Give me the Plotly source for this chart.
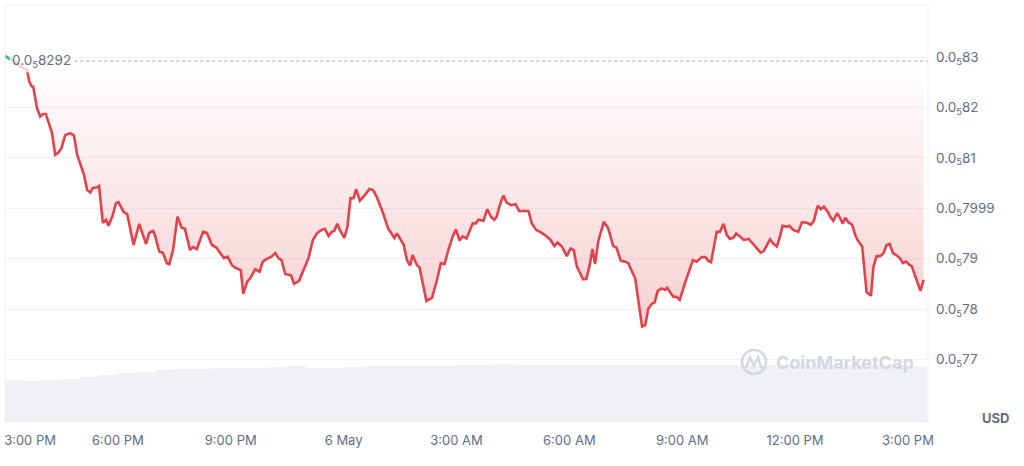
import pandas as pd
import plotly.graph_objects as go

# ---- data (price shown in units of 0.0_5, i.e. value x 1e-5 USD) ----
start_time = "2024-05-05 15:00"
minutes = [0, 11, 24, 35, 39, 42, 45, 51, 56, 61, 65, 71, 75, 80, 85, 90, 96, 104, 110, 115,
           122, 126, 131, 136, 140, 146, 150, 156, 161, 165, 171, 177, 181, 189, 195, 205, 214, 225, 230, 236,
           239, 246, 252, 258, 262, 268, 275, 282, 287, 295, 300, 306, 311, 316, 322, 330, 337, 346, 349, 355,
           362, 367, 372, 376, 380, 386, 391, 399, 406, 411, 417, 425, 431, 436, 441, 447, 456, 461, 469, 479,
           484, 491, 498, 505, 510, 516, 521, 525, 530, 534, 541, 546, 551, 556, 560, 566, 574, 581, 587, 593,
           603, 611, 621, 625, 630, 636, 641, 646, 650, 657, 661, 672, 681, 689, 695, 701, 707, 714, 719, 725,
           730, 736, 746, 751, 755, 763, 769, 775, 780, 784, 790, 795, 800, 807, 814, 820, 828, 835, 840, 847,
           856, 863, 870, 876, 881, 888, 896, 902, 907, 912, 918, 922, 927, 932, 937, 941, 946, 955, 962, 970,
           975, 982, 989, 994, 1000, 1005, 1016, 1021, 1026, 1032, 1036, 1041, 1047, 1053, 1056, 1066, 1071, 1076, 1085, 1093,
           1097, 1103, 1111, 1117, 1122, 1126, 1135, 1140, 1146, 1151, 1156, 1162, 1166, 1172, 1178, 1186, 1194, 1199, 1205, 1210,
           1215, 1220, 1225, 1231, 1236, 1240, 1247, 1251, 1257, 1265, 1271, 1279, 1285, 1290, 1296, 1301, 1306, 1312, 1316, 1321,
           1327, 1332, 1336, 1340, 1345, 1351, 1356, 1360, 1367, 1374, 1381, 1385, 1390, 1396, 1401, 1406, 1411, 1416, 1421, 1427,
           1432, 1437, 1443, 1446, 1452, 1460, 1465]
price = [0.8302, 0.8294, 0.8282, 0.8274, 0.8251, 0.8242, 0.8241, 0.8199, 0.8182, 0.8187, 0.8187, 0.8161, 0.8149, 0.8106, 0.8110, 0.8119, 0.8145, 0.8149, 0.8144, 0.8106,
         0.8080, 0.8066, 0.8036, 0.8031, 0.8040, 0.8041, 0.8044, 0.7971, 0.7977, 0.7965, 0.7983, 0.8010, 0.8012, 0.7993, 0.7988, 0.7927, 0.7969, 0.7929, 0.7951, 0.7955,
         0.7947, 0.7914, 0.7911, 0.7891, 0.7889, 0.7917, 0.7983, 0.7961, 0.7959, 0.7917, 0.7923, 0.7919, 0.7937, 0.7953, 0.7951, 0.7927, 0.7922, 0.7907, 0.7901, 0.7904,
         0.7887, 0.7882, 0.7879, 0.7877, 0.7830, 0.7854, 0.7861, 0.7879, 0.7874, 0.7894, 0.7899, 0.7904, 0.7911, 0.7901, 0.7897, 0.7869, 0.7867, 0.7850, 0.7856, 0.7887,
         0.7901, 0.7937, 0.7951, 0.7957, 0.7959, 0.7945, 0.7953, 0.7955, 0.7969, 0.7957, 0.7941, 0.7962, 0.8020, 0.8020, 0.8038, 0.8015, 0.8026, 0.8038, 0.8036, 0.8022,
         0.7990, 0.7960, 0.7941, 0.7950, 0.7940, 0.7927, 0.7897, 0.7886, 0.7907, 0.7887, 0.7883, 0.7816, 0.7822, 0.7858, 0.7891, 0.7889, 0.7917, 0.7944, 0.7958, 0.7936,
         0.7944, 0.7940, 0.7970, 0.7970, 0.7977, 0.7975, 0.7998, 0.7983, 0.7977, 0.7983, 0.8010, 0.8025, 0.8011, 0.8006, 0.8008, 0.7994, 0.7995, 0.7994, 0.7970, 0.7957,
         0.7951, 0.7945, 0.7937, 0.7925, 0.7932, 0.7924, 0.7905, 0.7920, 0.7917, 0.7884, 0.7869, 0.7859, 0.7860, 0.7884, 0.7919, 0.7889, 0.7934, 0.7973, 0.7960, 0.7925,
         0.7922, 0.7896, 0.7894, 0.7891, 0.7874, 0.7861, 0.7765, 0.7768, 0.7801, 0.7811, 0.7813, 0.7836, 0.7841, 0.7838, 0.7842, 0.7824, 0.7824, 0.7818, 0.7854, 0.7884,
         0.7897, 0.7894, 0.7903, 0.7903, 0.7895, 0.7893, 0.7953, 0.7953, 0.7969, 0.7947, 0.7939, 0.7942, 0.7950, 0.7944, 0.7937, 0.7939, 0.7928, 0.7920, 0.7912, 0.7915,
         0.7928, 0.7938, 0.7930, 0.7924, 0.7944, 0.7965, 0.7963, 0.7965, 0.7957, 0.7953, 0.7972, 0.7971, 0.7967, 0.7975, 0.8005, 0.7998, 0.8003, 0.7993, 0.7983, 0.7975,
         0.7990, 0.7980, 0.7969, 0.7981, 0.7972, 0.7967, 0.7947, 0.7936, 0.7924, 0.7834, 0.7826, 0.7884, 0.7905, 0.7905, 0.7911, 0.7927, 0.7929, 0.7911, 0.7907, 0.7901,
         0.7891, 0.7894, 0.7887, 0.7885, 0.7864, 0.7836, 0.7858]
baseline_price = 0.8292

# volume in 30-minute buckets (arbitrary units)
volume = [10.0, 9.9, 10.1, 10.4, 10.8, 11.2, 11.7, 12.0, 12.4, 12.7,
          12.8, 13.0, 13.0, 13.0, 13.2, 13.36, 13.05, 13.02, 13.3, 13.36,
          13.36, 13.36, 13.36, 13.4, 13.67, 13.75, 13.8, 13.67, 13.67, 13.67,
          13.67, 13.7, 13.67, 13.67, 13.67, 13.67, 13.67, 13.67, 13.67, 13.67,
          13.67, 13.67, 13.67, 13.67, 13.67, 13.67, 13.67, 13.67, 13.5]
volume_bucket_min = 30

y_ticks = [0.77, 0.78, 0.79, 0.80, 0.81, 0.82, 0.83]
y_tick_text = ["0.0<sub>5</sub>77", "0.0<sub>5</sub>78", "0.0<sub>5</sub>79", "0.0<sub>5</sub>7999",
               "0.0<sub>5</sub>81", "0.0<sub>5</sub>82", "0.0<sub>5</sub>83"]
x_tick_times = ["2024-05-05 15:40", "2024-05-05 18:00", "2024-05-05 21:00", "2024-05-06 00:00",
                "2024-05-06 03:00", "2024-05-06 06:00", "2024-05-06 09:00", "2024-05-06 12:00",
                "2024-05-06 15:00"]
x_tick_text = ["3:00 PM", "6:00 PM", "9:00 PM", "6 May", "3:00 AM", "6:00 AM", "9:00 AM", "12:00 PM", "3:00 PM"]

# ---- build ----
t0 = pd.Timestamp(start_time)
times = [t0 + pd.Timedelta(minutes=m) for m in minutes]
vol_times = [t0 + pd.Timedelta(minutes=volume_bucket_min * i + volume_bucket_min / 2) for i in range(len(volume))]
x_end = t0 + pd.Timedelta(minutes=1472)

RED = "#e2434a"
GREEN = "#16c784"
GREY = "#616e85"
FONT = "Inter"

fig = go.Figure()

fig.add_trace(go.Bar(
    x=vol_times, y=volume, yaxis="y2",
    width=volume_bucket_min * 60 * 1000,
    marker=dict(color="#eff1f5", line=dict(width=0)),
    hoverinfo="skip", showlegend=False,
))

fig.add_trace(go.Scatter(
    x=times, y=[baseline_price] * len(times), mode="lines",
    line=dict(width=0), hoverinfo="skip", showlegend=False,
))
fig.add_trace(go.Scatter(
    x=times, y=price, mode="lines", fill="tonexty",
    fillgradient=dict(type="vertical", start=0.776, stop=baseline_price,
                      colorscale=[[0, "rgba(226,67,74,0.25)"], [1, "rgba(226,67,74,0.0)"]]),
    line=dict(color=RED, width=2.6), showlegend=False,
))
fig.add_trace(go.Scatter(
    x=times[:2], y=price[:2], mode="lines",
    line=dict(color=GREEN, width=2.6), showlegend=False, hoverinfo="skip",
))

shapes = [
    dict(type="line", xref="paper", yref="y", x0=0.075, x1=1, y0=baseline_price, y1=baseline_price,
         line=dict(color="#9aa2b1", width=1, dash="dot")),
    dict(type="line", xref="paper", yref="paper", x0=0, x1=0, y0=0, y1=1, line=dict(color="#eef0f3", width=1)),
    dict(type="line", xref="paper", yref="paper", x0=1, x1=1, y0=0, y1=1, line=dict(color="#eef0f3", width=1)),
    dict(type="line", xref="paper", yref="paper", x0=0, x1=1, y0=1, y1=1, line=dict(color="#eef0f3", width=1)),
    # watermark logo
    dict(type="circle", xref="paper", yref="paper", x0=0.7985, x1=0.8245, y0=0.1151, y1=0.1727,
         line=dict(color="#d3d8e1", width=2.5)),
    dict(type="path", xref="paper", yref="paper",
         path="M 0.8028,0.1295 L 0.8072,0.1559 L 0.8115,0.1343 L 0.8159,0.1559 L 0.8191,0.1319 L 0.8230,0.1260",
         line=dict(color="#d3d8e1", width=2.5)),
]

annotations = [
    dict(xref="paper", yref="y", x=0, y=baseline_price, xanchor="left", yanchor="middle", xshift=4,
         text="0.0<sub>5</sub>8292", showarrow=False, bgcolor="rgba(255,255,255,0.75)",
         font=dict(family=FONT, size=13.5, color=GREY), borderpad=2),
    dict(xref="paper", yref="paper", x=1.0726, y=0.0096, xanchor="center", yanchor="middle",
         text="<b>USD</b>", showarrow=False, font=dict(family=FONT, size=13, color=GREY)),
    dict(xref="paper", yref="paper", x=0.9105, y=0.1415, xanchor="center", yanchor="middle",
         text="<b>CoinMarketCap</b>", showarrow=False, font=dict(family=FONT, size=18, color="#d3d8e1")),
]

fig.update_layout(
    width=1024, height=466,
    margin=dict(l=5, r=96, t=5, b=44),
    paper_bgcolor="white", plot_bgcolor="white",
    font=dict(family=FONT, size=13, color=GREY),
    showlegend=False,
    bargap=0,
    xaxis=dict(
        type="date", range=[t0, x_end],
        tickvals=[pd.Timestamp(t) for t in x_tick_times], ticktext=x_tick_text,
        showgrid=False, zeroline=False, showline=False, ticks="",
        tickfont=dict(family=FONT, size=13, color=GREY), ticklabelstandoff=9,
    ),
    yaxis=dict(
        side="right", range=[0.75758, 0.84032],
        tickvals=y_ticks, ticktext=y_tick_text,
        showgrid=True, gridcolor="#eff1f4", gridwidth=1, zeroline=False, showline=False, ticks="",
        tickfont=dict(family=FONT, size=13.5, color=GREY), ticklabelstandoff=7,
    ),
    yaxis2=dict(overlaying="y", range=[0, 100], visible=False, showgrid=False),
    shapes=shapes, annotations=annotations,
)

fig.write_html("out.html", config={"displayModeBar": False},
               post_script="document.body.style.margin='0';document.body.style.overflow='hidden';")
